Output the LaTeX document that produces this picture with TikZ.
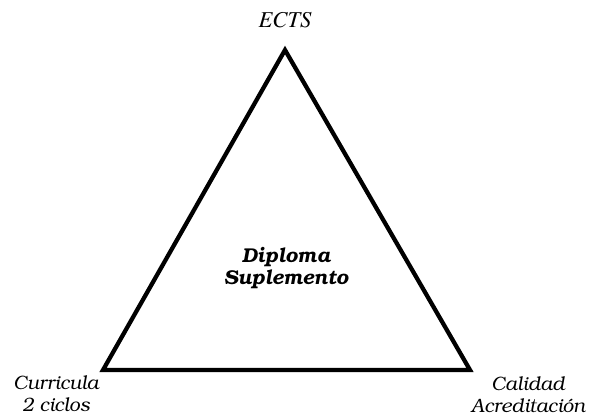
\documentclass[tikz,border=0pt]{standalone}
\usepackage[T1]{fontenc}
\tikzset{
  rotulo/.style={font=\fontfamily{pbk}\itshape\fontsize{14.5}{16.5}\selectfont, align=center},
  centro/.style={font=\fontfamily{pbk}\bfseries\itshape\fontsize{15}{16.5}\selectfont, align=center},
  lado/.style={line width=3.2pt, line join=miter}
}
\begin{document}
\begin{tikzpicture}[x=0.75pt, y=-0.75pt]  %Escala em pixels
    \useasboundingbox (0,0) rectangle (590,419);
        %Vertices do triangulo
    \coordinate (ects) at (285,50);
    \coordinate (curr) at (103,370);
    \coordinate (cal) at (470,370);
        %Triangulo
    \draw[lado] (ects) -- (curr) -- (cal) -- cycle;
        %Rotulos
    \node[font=\fontfamily{ptm}\itshape\fontsize{17}{19}\selectfont] (tects) at (285,20) {ECTS};
    \node[rotulo] (tcurr) at (56,394) {Curricula\\2 ciclos};
    \node[rotulo] (tcal) at (528,395) {Calidad\\Acreditaci\'on};
    \node[centro] (dipl) at (286,268) {Diploma\\Suplemento};
\end{tikzpicture}
\end{document}
